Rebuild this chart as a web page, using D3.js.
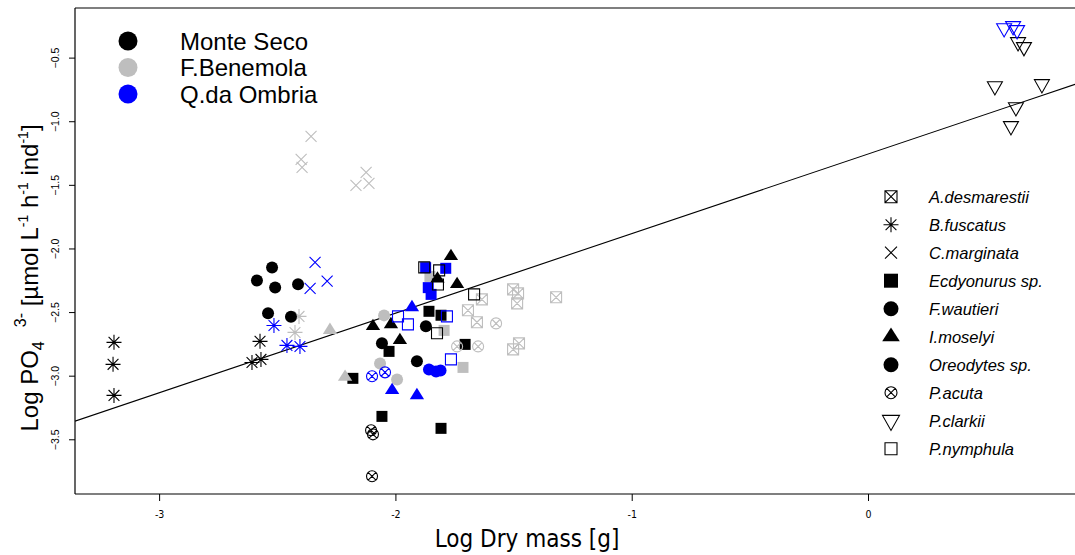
<!DOCTYPE html>
<html><head><meta charset="utf-8">
<script src="https://cdn.jsdelivr.net/npm/d3@7"></script>
<style>
html,body{margin:0;padding:0;background:#fff;}
svg{display:block;}
</style></head>
<body>
<script>
// ---------------- DATA ----------------
const species = ["A.desmarestii","B.fuscatus","C.marginata","Ecdyonurus sp.","F.wautieri","I.moselyi","Oreodytes sp.","P.acuta","P.clarkii","P.nymphula"];
const sites = ["Monte Seco","F.Benemola","Q.da Ombria"];
const xTicks = [-3,-2,-1,0];
const yTicks = [-3.5,-3,-2.5,-2,-1.5,-1,-0.5];
const regIntercept = -1.258;
const regSlope = 0.6255;
// [species, site, log dry mass, log PO4 excretion]
const points = [
 ["A.desmarestii","F.Benemola",-1.502,-2.322],["A.desmarestii","F.Benemola",-1.481,-2.353],["A.desmarestii","F.Benemola",-1.485,-2.432],
 ["A.desmarestii","F.Benemola",-1.320,-2.384],["A.desmarestii","F.Benemola",-1.634,-2.400],["A.desmarestii","F.Benemola",-1.693,-2.486],
 ["A.desmarestii","F.Benemola",-1.655,-2.580],["A.desmarestii","F.Benemola",-1.477,-2.746],["A.desmarestii","F.Benemola",-1.502,-2.793],
 ["B.fuscatus","Monte Seco",-3.191,-2.738],["B.fuscatus","Monte Seco",-3.195,-2.911],["B.fuscatus","Monte Seco",-3.191,-3.155],
 ["B.fuscatus","Monte Seco",-2.573,-2.730],["B.fuscatus","Monte Seco",-2.607,-2.896],["B.fuscatus","Monte Seco",-2.569,-2.872],
 ["B.fuscatus","F.Benemola",-2.408,-2.534],["B.fuscatus","F.Benemola",-2.425,-2.660],
 ["B.fuscatus","Q.da Ombria",-2.514,-2.605],["B.fuscatus","Q.da Ombria",-2.459,-2.762],["B.fuscatus","Q.da Ombria",-2.404,-2.770],
 ["C.marginata","F.Benemola",-2.357,-1.119],["C.marginata","F.Benemola",-2.399,-1.300],["C.marginata","F.Benemola",-2.395,-1.362],
 ["C.marginata","F.Benemola",-2.124,-1.402],["C.marginata","F.Benemola",-2.167,-1.504],["C.marginata","F.Benemola",-2.112,-1.488],
 ["C.marginata","Q.da Ombria",-2.340,-2.109],["C.marginata","Q.da Ombria",-2.289,-2.256],["C.marginata","Q.da Ombria",-2.361,-2.314],
 ["Ecdyonurus sp.","F.Benemola",-1.794,-2.644],["Ecdyonurus sp.","F.Benemola",-1.714,-2.935],["Ecdyonurus sp.","F.Benemola",-1.854,-2.220],
 ["Ecdyonurus sp.","Monte Seco",-1.858,-2.494],["Ecdyonurus sp.","Monte Seco",-1.807,-2.525],["Ecdyonurus sp.","Monte Seco",-1.705,-2.754],
 ["Ecdyonurus sp.","Monte Seco",-2.027,-2.809],["Ecdyonurus sp.","Monte Seco",-2.057,-3.320],["Ecdyonurus sp.","Monte Seco",-1.807,-3.414],
 ["Ecdyonurus sp.","Monte Seco",-2.180,-3.021],
 ["Ecdyonurus sp.","Q.da Ombria",-1.872,-2.151],["Ecdyonurus sp.","Q.da Ombria",-1.787,-2.156],["Ecdyonurus sp.","Q.da Ombria",-1.861,-2.308],
 ["Ecdyonurus sp.","Q.da Ombria",-1.849,-2.361],
 ["F.wautieri","F.Benemola",-2.048,-2.526],["F.wautieri","F.Benemola",-2.065,-2.904],["F.wautieri","F.Benemola",-1.993,-3.030],
 ["F.wautieri","Monte Seco",-1.871,-2.611],["F.wautieri","Monte Seco",-2.057,-2.746],["F.wautieri","Monte Seco",-1.909,-2.887],
 ["F.wautieri","Q.da Ombria",-1.858,-2.951],["F.wautieri","Q.da Ombria",-1.828,-2.967],["F.wautieri","Q.da Ombria",-1.809,-2.959],
 ["I.moselyi","F.Benemola",-2.277,-2.642],["I.moselyi","F.Benemola",-2.213,-3.011],
 ["I.moselyi","Monte Seco",-1.765,-2.062],["I.moselyi","Monte Seco",-1.739,-2.282],["I.moselyi","Monte Seco",-2.095,-2.612],
 ["I.moselyi","Monte Seco",-2.019,-2.597],["I.moselyi","Monte Seco",-1.981,-2.722],["I.moselyi","Monte Seco",-1.822,-2.238],
 ["I.moselyi","Q.da Ombria",-1.930,-2.463],["I.moselyi","Q.da Ombria",-2.014,-3.115],["I.moselyi","Q.da Ombria",-1.909,-3.155],
 ["Oreodytes sp.","Monte Seco",-2.586,-2.251],["Oreodytes sp.","Monte Seco",-2.522,-2.149],["Oreodytes sp.","Monte Seco",-2.509,-2.306],
 ["Oreodytes sp.","Monte Seco",-2.412,-2.282],["Oreodytes sp.","Monte Seco",-2.539,-2.510],["Oreodytes sp.","Monte Seco",-2.442,-2.537],
 ["P.acuta","F.Benemola",-1.574,-2.589],["P.acuta","F.Benemola",-1.739,-2.770],["P.acuta","F.Benemola",-1.650,-2.770],
 ["P.acuta","Q.da Ombria",-2.099,-3.005],["P.acuta","Q.da Ombria",-2.044,-2.974],
 ["P.acuta","Monte Seco",-2.103,-3.429],["P.acuta","Monte Seco",-2.095,-3.461],["P.acuta","Monte Seco",-2.099,-3.791],
 ["P.clarkii","Monte Seco",0.635,-0.380],["P.clarkii","Monte Seco",0.660,-0.419],["P.clarkii","Monte Seco",0.537,-0.726],
 ["P.clarkii","Monte Seco",0.736,-0.710],["P.clarkii","Monte Seco",0.626,-0.891],["P.clarkii","Monte Seco",0.605,-1.040],
 ["P.clarkii","Q.da Ombria",0.576,-0.270],["P.clarkii","Q.da Ombria",0.614,-0.254],["P.clarkii","Q.da Ombria",0.631,-0.285],
 ["P.nymphula","Monte Seco",-1.878,-2.149],["P.nymphula","Monte Seco",-1.815,-2.172],["P.nymphula","Monte Seco",-1.820,-2.283],
 ["P.nymphula","Monte Seco",-1.667,-2.361],["P.nymphula","Monte Seco",-1.824,-2.667],
 ["P.nymphula","Q.da Ombria",-1.989,-2.534],["P.nymphula","Q.da Ombria",-1.947,-2.597],["P.nymphula","Q.da Ombria",-1.782,-2.534],
 ["P.nymphula","Q.da Ombria",-1.765,-2.872]
];

// ---------------- CHART ----------------
const W = 1075, H = 555;
const plot = {left:75, right:1075, top:8, bottom:494};
const svg = d3.select("body").append("svg").attr("width",W).attr("height",H);

const x = d3.scaleLinear().domain([-3.356, 0.876]).range([plot.left, plot.right]);
const y = d3.scaleLinear().domain([-3.93, -0.11]).range([plot.bottom, plot.top]);

const color = d3.scaleOrdinal().domain(sites).range(["#000000","#bebebe","#0000ff"]);
const shape = d3.scaleOrdinal().domain(species)
  .range(["sqx","ast","x","fsq","fcirc","ftri","fcirc","cx","dtri","osq"]);

function symPath(kind, s){
  const h = s/2;
  const circ = r => `M${r},0A${r},${r} 0 1 1 ${-r},0A${r},${r} 0 1 1 ${r},0Z`;
  switch(kind){
    case "sqx": return `M${-h},${-h}H${h}V${h}H${-h}Z M${-h},${-h}L${h},${h} M${-h},${h}L${h},${-h}`;
    case "ast": { const a=h, d=h*0.72; return `M${-a},0H${a} M0,${-a}V${a} M${-d},${-d}L${d},${d} M${-d},${d}L${d},${-d}`; }
    case "x": return `M${-h},${-h}L${h},${h} M${-h},${h}L${h},${-h}`;
    case "fsq": return `M${-h},${-h}H${h}V${h}H${-h}Z`;
    case "fcirc": return circ(h);
    case "ftri": { const t = s*0.58; return `M0,${-t}L${h*1.1},${t*0.5}L${-h*1.1},${t*0.5}Z`; }
    case "cx": { const d=h*0.707; return circ(h)+` M${-d},${-d}L${d},${d} M${-d},${d}L${d},${-d}`; }
    case "dtri": { const t = s*0.52; return `M${-h},${-t*0.6}H${h}L0,${t*1.1}Z`; }
    case "osq": return `M${-h},${-h}H${h}V${h}H${-h}Z`;
  }
}
const filled = k => k==="fsq"||k==="fcirc"||k==="ftri";
const plotSize = {sqx:11, ast:15, x:11, fsq:11, fcirc:12, ftri:13, cx:11, dtri:15, osq:11};
const legSize = {sqx:12, ast:15, x:12, fsq:14, fcirc:15, ftri:16, cx:12, dtri:17, osq:12};

// frame
const frame = svg.append("g").attr("stroke","#000").attr("stroke-width",1.2).attr("fill","none");
frame.append("line").attr("x1",plot.left).attr("x2",plot.left).attr("y1",plot.top).attr("y2",plot.bottom);
frame.append("line").attr("x1",plot.left).attr("x2",plot.right).attr("y1",plot.top).attr("y2",plot.top);
frame.append("line").attr("x1",plot.left).attr("x2",plot.right).attr("y1",plot.bottom).attr("y2",plot.bottom);

// axes
const xAxis = svg.append("g").attr("transform",`translate(0,${plot.bottom})`)
  .call(d3.axisBottom(x).tickValues(xTicks).tickSize(7).tickSizeOuter(0).tickFormat(d=>String(d)));
xAxis.select(".domain").remove();
xAxis.selectAll("text").attr("font-family","'Liberation Sans Narrow','DejaVu Sans Condensed',sans-serif")
  .attr("font-size",10.5).attr("dy","1.3em").attr("fill","#000");

const yAxis = svg.append("g").attr("transform",`translate(${plot.left},0)`)
  .call(d3.axisLeft(y).tickValues(yTicks).tickSize(6).tickSizeOuter(0).tickFormat(d3.format(".1f")));
yAxis.select(".domain").remove();
yAxis.selectAll("text").attr("font-family","'Liberation Sans',Arial,sans-serif").attr("font-size",10.5)
  .attr("fill","#000")
  .attr("transform","translate(-20,0) rotate(-90)")
  .attr("x",0).attr("y",0).attr("dy","0.35em").attr("text-anchor","middle");

// regression line
svg.append("clipPath").attr("id","pc").append("rect")
  .attr("x",plot.left).attr("y",plot.top).attr("width",plot.right-plot.left).attr("height",plot.bottom-plot.top);
const lineX = x.domain();
svg.append("line").attr("clip-path","url(#pc)")
  .attr("x1",x(lineX[0])).attr("y1",y(regIntercept+regSlope*lineX[0]))
  .attr("x2",x(lineX[1])).attr("y2",y(regIntercept+regSlope*lineX[1]))
  .attr("stroke","#000").attr("stroke-width",1.1);

// points
svg.append("g").selectAll("path").data(points).join("path")
  .attr("transform",d=>`translate(${x(d[2])},${y(d[3])})`)
  .attr("d",d=>symPath(shape(d[0]), plotSize[shape(d[0])]))
  .attr("fill",d=>filled(shape(d[0])) ? color(d[1]) : "none")
  .attr("stroke",d=>filled(shape(d[0])) ? "none" : color(d[1]))
  .attr("stroke-width",1.1);

// site legend
const sl = svg.append("g");
sites.forEach((s,i)=>{
  const cy = 41 + i*26.5;
  sl.append("circle").attr("cx",128).attr("cy",cy).attr("r",9.5).attr("fill",color(s));
  sl.append("text").attr("x",180).attr("y",cy+8.5).text(s)
    .attr("font-family","'Liberation Sans',Arial,sans-serif").attr("font-size",24).attr("fill","#000");
});

// species legend
const spl = svg.append("g");
species.forEach((s,i)=>{
  const cy = 196.7 + i*28.0;
  const k = shape(s);
  spl.append("path").attr("transform",`translate(891,${cy})`).attr("d",symPath(k, legSize[k]))
    .attr("fill",filled(k)?"#000":"none").attr("stroke",filled(k)?"none":"#000").attr("stroke-width",1.1);
  spl.append("text").attr("x",929).attr("y",cy+6).text(s)
    .attr("font-family","'Liberation Sans',Arial,sans-serif").attr("font-style","italic")
    .attr("font-size",16.5).attr("fill","#000");
});

// axis titles
svg.append("text").attr("x",527).attr("y",547).attr("text-anchor","middle")
  .attr("font-family","'Liberation Sans Narrow','DejaVu Sans Condensed',sans-serif").attr("font-size",24)
  .text("Log Dry mass [g]");

const yt = svg.append("text").attr("transform","translate(38,278) rotate(-90)").attr("text-anchor","middle")
  .attr("font-family","'Liberation Sans',Arial,sans-serif").attr("font-size",24).attr("fill","#000");
yt.append("tspan").text("Log PO");
yt.append("tspan").attr("font-size",16).attr("dy",6).text("4");
yt.append("tspan").attr("font-size",16).attr("dy",-18).attr("dx",14).text("3-");
yt.append("tspan").attr("dy",12).text(" [µmol L");
yt.append("tspan").attr("font-size",14).attr("dy",-10).text("-1");
yt.append("tspan").attr("dy",10).text(" h");
yt.append("tspan").attr("font-size",14).attr("dy",-10).text("-1");
yt.append("tspan").attr("dy",10).text(" ind");
yt.append("tspan").attr("font-size",14).attr("dy",-10).text("-1");
yt.append("tspan").attr("dy",10).text("]");
</script>
</body></html>
